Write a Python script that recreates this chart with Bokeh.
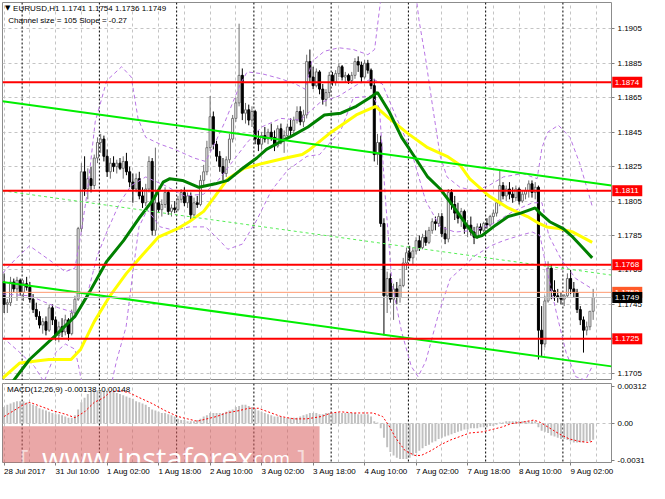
from bokeh.plotting import figure
from bokeh.layouts import column
from bokeh.models import (ColumnDataSource, Range1d, FixedTicker, Span, Label,
                          BoxAnnotation, PrintfTickFormatter)
from bokeh.core.properties import value
from bokeh.embed import file_html
from bokeh.resources import INLINE

FONT = "Liberation Sans"

# EURUSD H1, 28 Jul 2017 18:00 ... 9 Aug 2017 09:00 (x = bar number)
opens = [1.1758, 1.1745, 1.1746, 1.1758, 1.1754, 1.1759, 1.1752, 1.1757, 1.1755, 1.1748, 1.1742, 1.1738,
         1.1733, 1.1735, 1.1730, 1.1743, 1.1736, 1.1727, 1.1732, 1.1729, 1.1736, 1.1728, 1.1740, 1.1748,
         1.1789, 1.1822, 1.1812, 1.1818, 1.1814, 1.1830, 1.1839, 1.1841, 1.1831, 1.1822, 1.1827, 1.1825,
         1.1827, 1.1824, 1.1828, 1.1822, 1.1816, 1.1812, 1.1818, 1.1808, 1.1804, 1.1812, 1.1828, 1.1788,
         1.1804, 1.1800, 1.1803, 1.1810, 1.1799, 1.1801, 1.1800, 1.1806, 1.1810, 1.1804, 1.1808, 1.1797,
         1.1804, 1.1803, 1.1817, 1.1822, 1.1836, 1.1854, 1.1838, 1.1831, 1.1825, 1.1821, 1.1829, 1.1841,
         1.1853, 1.1862, 1.1878, 1.1856, 1.1858, 1.1852, 1.1857, 1.1841, 1.1838, 1.1843, 1.1841, 1.1845,
         1.1842, 1.1837, 1.1847, 1.1840, 1.1843, 1.1848, 1.1846, 1.1852, 1.1857, 1.1851, 1.1855, 1.1886,
         1.1877, 1.1872, 1.1880, 1.1870, 1.1864, 1.1868, 1.1878, 1.1874, 1.1879, 1.1883, 1.1877, 1.1878,
         1.1875, 1.1878, 1.1886, 1.1884, 1.1877, 1.1885, 1.1881, 1.1872, 1.1832, 1.1839, 1.1792, 1.1750,
         1.1760, 1.1748, 1.1754, 1.1749, 1.1756, 1.1769, 1.1775, 1.1772, 1.1776, 1.1782, 1.1778, 1.1784,
         1.1781, 1.1788, 1.1793, 1.1792, 1.1796, 1.1786, 1.1783, 1.1810, 1.1803, 1.1798, 1.1795, 1.1799,
         1.1789, 1.1791, 1.1787, 1.1784, 1.1790, 1.1788, 1.1792, 1.1791, 1.1796, 1.1798, 1.1804, 1.1814,
         1.1808, 1.1812, 1.1809, 1.1807, 1.1812, 1.1805, 1.1809, 1.1811, 1.1815, 1.1810, 1.1813, 1.1730,
         1.1722, 1.1747, 1.1766, 1.1753, 1.1750, 1.1749, 1.1748, 1.1750, 1.1760, 1.1754, 1.1752, 1.1742,
         1.1736, 1.1730, 1.1732, 1.1741]
highs = [1.1763, 1.1748, 1.1761, 1.1760, 1.1761, 1.1760, 1.1759, 1.1761, 1.1758, 1.1751, 1.1746, 1.1741,
         1.1737, 1.1738, 1.1745, 1.1745, 1.1738, 1.1735, 1.1737, 1.1739, 1.1737, 1.1742, 1.1750, 1.1790,
         1.1827, 1.1831, 1.1824, 1.1825, 1.1832, 1.1842, 1.1844, 1.1843, 1.1835, 1.1830, 1.1831, 1.1829,
         1.1830, 1.1831, 1.1833, 1.1825, 1.1821, 1.1821, 1.1822, 1.1813, 1.1815, 1.1831, 1.1830, 1.1836,
         1.1812, 1.1806, 1.1813, 1.1811, 1.1803, 1.1805, 1.1808, 1.1812, 1.1813, 1.1810, 1.1810, 1.1807,
         1.1808, 1.1820, 1.1826, 1.1840, 1.1866, 1.1857, 1.1840, 1.1834, 1.1830, 1.1831, 1.1844, 1.1855,
         1.1865, 1.1908, 1.1882, 1.1862, 1.1861, 1.1860, 1.1858, 1.1846, 1.1845, 1.1848, 1.1847, 1.1850,
         1.1846, 1.1849, 1.1850, 1.1846, 1.1850, 1.1853, 1.1854, 1.1860, 1.1860, 1.1858, 1.1890, 1.1893,
         1.1883, 1.1882, 1.1881, 1.1873, 1.1870, 1.1880, 1.1880, 1.1881, 1.1885, 1.1884, 1.1880, 1.1879,
         1.1880, 1.1888, 1.1889, 1.1886, 1.1887, 1.1887, 1.1882, 1.1876, 1.1844, 1.1843, 1.1795, 1.1764,
         1.1763, 1.1757, 1.1758, 1.1760, 1.1772, 1.1778, 1.1779, 1.1778, 1.1784, 1.1785, 1.1786, 1.1788,
         1.1790, 1.1795, 1.1796, 1.1798, 1.1798, 1.1790, 1.1812, 1.1812, 1.1808, 1.1804, 1.1801, 1.1800,
         1.1794, 1.1796, 1.1790, 1.1792, 1.1792, 1.1793, 1.1795, 1.1797, 1.1800, 1.1806, 1.1823, 1.1816,
         1.1814, 1.1816, 1.1813, 1.1814, 1.1813, 1.1811, 1.1813, 1.1817, 1.1817, 1.1816, 1.1814, 1.1744,
         1.1750, 1.1770, 1.1768, 1.1759, 1.1754, 1.1752, 1.1751, 1.1763, 1.1765, 1.1758, 1.1754, 1.1744,
         1.1738, 1.1735, 1.1738, 1.1754]
lows = [1.1740, 1.1740, 1.1744, 1.1752, 1.1747, 1.1750, 1.1747, 1.1753, 1.1746, 1.1740, 1.1736, 1.1731,
        1.1728, 1.1727, 1.1729, 1.1733, 1.1724, 1.1723, 1.1726, 1.1727, 1.1724, 1.1727, 1.1737, 1.1747,
        1.1787, 1.1808, 1.1806, 1.1810, 1.1812, 1.1827, 1.1833, 1.1828, 1.1819, 1.1818, 1.1822, 1.1821,
        1.1823, 1.1818, 1.1820, 1.1813, 1.1804, 1.1810, 1.1806, 1.1801, 1.1802, 1.1810, 1.1785, 1.1785,
        1.1798, 1.1796, 1.1801, 1.1797, 1.1796, 1.1798, 1.1799, 1.1804, 1.1802, 1.1801, 1.1794, 1.1796,
        1.1801, 1.1802, 1.1814, 1.1820, 1.1834, 1.1835, 1.1828, 1.1822, 1.1817, 1.1819, 1.1827, 1.1839,
        1.1851, 1.1860, 1.1852, 1.1850, 1.1849, 1.1848, 1.1838, 1.1834, 1.1835, 1.1839, 1.1838, 1.1840,
        1.1834, 1.1836, 1.1838, 1.1833, 1.1841, 1.1842, 1.1844, 1.1850, 1.1849, 1.1848, 1.1853, 1.1874,
        1.1870, 1.1871, 1.1867, 1.1861, 1.1860, 1.1865, 1.1872, 1.1872, 1.1877, 1.1875, 1.1874, 1.1873,
        1.1873, 1.1876, 1.1880, 1.1874, 1.1876, 1.1879, 1.1870, 1.1828, 1.1826, 1.1790, 1.1727, 1.1740,
        1.1746, 1.1736, 1.1745, 1.1746, 1.1755, 1.1765, 1.1770, 1.1768, 1.1774, 1.1776, 1.1777, 1.1779,
        1.1780, 1.1786, 1.1788, 1.1790, 1.1784, 1.1780, 1.1781, 1.1800, 1.1794, 1.1792, 1.1790, 1.1786,
        1.1784, 1.1785, 1.1780, 1.1783, 1.1786, 1.1787, 1.1789, 1.1790, 1.1792, 1.1796, 1.1802, 1.1806,
        1.1805, 1.1806, 1.1804, 1.1805, 1.1803, 1.1804, 1.1806, 1.1807, 1.1807, 1.1806, 1.1713, 1.1715,
        1.1720, 1.1746, 1.1748, 1.1747, 1.1746, 1.1745, 1.1744, 1.1749, 1.1751, 1.1749, 1.1740, 1.1733,
        1.1717, 1.1727, 1.1730, 1.1736]
closes = [1.1745, 1.1746, 1.1758, 1.1754, 1.1759, 1.1752, 1.1757, 1.1755, 1.1748, 1.1742, 1.1738, 1.1733,
          1.1735, 1.1730, 1.1743, 1.1736, 1.1727, 1.1732, 1.1729, 1.1736, 1.1728, 1.1740, 1.1748, 1.1789,
          1.1822, 1.1812, 1.1818, 1.1814, 1.1830, 1.1839, 1.1841, 1.1831, 1.1822, 1.1827, 1.1825, 1.1827,
          1.1824, 1.1828, 1.1822, 1.1816, 1.1812, 1.1818, 1.1808, 1.1804, 1.1812, 1.1828, 1.1788, 1.1804,
          1.1800, 1.1803, 1.1810, 1.1799, 1.1801, 1.1800, 1.1806, 1.1810, 1.1804, 1.1808, 1.1797, 1.1804,
          1.1803, 1.1817, 1.1822, 1.1836, 1.1854, 1.1838, 1.1831, 1.1825, 1.1821, 1.1829, 1.1841, 1.1853,
          1.1862, 1.1878, 1.1856, 1.1858, 1.1852, 1.1857, 1.1841, 1.1838, 1.1843, 1.1841, 1.1845, 1.1842,
          1.1837, 1.1847, 1.1840, 1.1843, 1.1848, 1.1846, 1.1852, 1.1857, 1.1851, 1.1855, 1.1886, 1.1877,
          1.1872, 1.1880, 1.1870, 1.1864, 1.1868, 1.1878, 1.1874, 1.1879, 1.1883, 1.1877, 1.1878, 1.1875,
          1.1878, 1.1886, 1.1884, 1.1877, 1.1885, 1.1881, 1.1872, 1.1832, 1.1839, 1.1792, 1.1750, 1.1760,
          1.1748, 1.1754, 1.1749, 1.1756, 1.1769, 1.1775, 1.1772, 1.1776, 1.1782, 1.1778, 1.1784, 1.1781,
          1.1788, 1.1793, 1.1792, 1.1796, 1.1786, 1.1783, 1.1810, 1.1803, 1.1798, 1.1795, 1.1799, 1.1789,
          1.1791, 1.1787, 1.1784, 1.1790, 1.1788, 1.1792, 1.1791, 1.1796, 1.1798, 1.1804, 1.1814, 1.1808,
          1.1812, 1.1809, 1.1807, 1.1812, 1.1805, 1.1809, 1.1811, 1.1815, 1.1810, 1.1813, 1.1730, 1.1722,
          1.1747, 1.1766, 1.1753, 1.1750, 1.1749, 1.1748, 1.1750, 1.1760, 1.1754, 1.1752, 1.1742, 1.1736,
          1.1730, 1.1732, 1.1741, 1.1749]

# moving averages, read as (bar, price)
ma_green_x = [1.0, 7.9, 16.0, 22.0, 26.8, 31.9, 37.1, 41.9, 46.4, 49.4, 51.5, 55.4, 60.5, 65.6, 69.5,
              73.4, 78.5, 81.5, 85.4, 89.6, 94.4, 99.5, 104.6, 109.4, 113.6, 116.0, 119.6, 123.5,
              127.4, 131.6, 135.5, 139.5, 143.7, 146.7, 148.5, 152.7, 156.6, 160.5, 165.0, 166.5,
              169.5, 173.7, 176.7, 179.7, 182.7]
ma_green = [1.1696, 1.1713, 1.1727, 1.1738, 1.1753, 1.1770, 1.1782, 1.1795, 1.1806, 1.1816, 1.1818,
            1.1817, 1.1813, 1.1815, 1.1817, 1.1823, 1.1830, 1.1835, 1.1839, 1.1843, 1.1848, 1.1855,
            1.1856, 1.1860, 1.1865, 1.1868, 1.1857, 1.1842, 1.1831, 1.1819, 1.1812, 1.1802, 1.1791,
            1.1784, 1.1785, 1.1791, 1.1796, 1.1798, 1.1801, 1.1798, 1.1793, 1.1789, 1.1784, 1.1778,
            1.1772]
ma_yellow_x = [-0.5, 4.9, 13.9, 20.8, 23.8, 28.0, 32.9, 38.0, 43.1, 47.9, 53.9, 57.5, 62.0, 65.6, 69.5,
               74.6, 80.6, 87.5, 92.6, 95.0, 101.6, 109.4, 115.4, 119.6, 125.6, 131.6, 137.6, 141.6,
               144.6, 150.6, 156.6, 162.6, 166.2, 168.6, 172.5, 176.7, 182.7]
ma_yellow = [1.1702, 1.1711, 1.1713, 1.1713, 1.1719, 1.1735, 1.1750, 1.1763, 1.1774, 1.1784, 1.1789,
             1.1793, 1.1799, 1.1808, 1.1818, 1.1824, 1.1827, 1.1830, 1.1832, 1.1835, 1.1845, 1.1855,
             1.1860, 1.1853, 1.1844, 1.1836, 1.1831, 1.1826, 1.1818, 1.1808, 1.1801, 1.1796, 1.1792,
             1.1790, 1.1789, 1.1787, 1.1781]

# Bollinger bands (upper / middle / lower), read as (bar, price)
bb_up_x = [-0.5, 3.4, 7.9, 13.9, 19.0, 22.0, 23.8, 25.9, 28.3, 31.9, 36.5, 39.5, 41.6, 44.0, 48.5,
           53.0, 59.0, 62.6, 65.6, 68.6, 71.0, 73.4, 75.5, 80.0, 86.0, 90.5, 93.5, 95.6, 99.5, 104.0,
           108.5, 113.0, 115.1, 116.6, 117.8, 127.4, 128.9, 131.0, 133.2, 135.5, 137.6, 141.6, 146.1,
           150.6, 155.1, 161.1, 165.6, 167.1, 168.9, 172.2, 175.8, 178.8, 181.8, 182.7]
bb_up = [1.1763, 1.1771, 1.1779, 1.1771, 1.1764, 1.1766, 1.1785, 1.1811, 1.1851, 1.1875, 1.1883,
         1.1877, 1.1853, 1.1842, 1.1838, 1.1835, 1.1830, 1.1828, 1.1839, 1.1851, 1.1862, 1.1873,
         1.1880, 1.1879, 1.1876, 1.1873, 1.1870, 1.1886, 1.1892, 1.1894, 1.1893, 1.1890, 1.1893,
         1.1916, 1.1933, 1.1933, 1.1910, 1.1887, 1.1859, 1.1831, 1.1819, 1.1813, 1.1811, 1.1814,
         1.1819, 1.1821, 1.1818, 1.1836, 1.1845, 1.1849, 1.1842, 1.1827, 1.1808, 1.1802]
bb_mid_x = [-0.5, 7.9, 16.9, 22.3, 25.9, 28.9, 31.9, 35.9, 39.5, 44.0, 50.0, 56.0, 62.0, 66.5, 71.0,
            75.5, 80.0, 86.0, 92.0, 98.0, 104.0, 110.0, 114.5, 117.5, 122.0, 126.5, 131.0, 135.5,
            140.1, 146.1, 152.1, 158.1, 164.1, 167.1, 169.2, 173.1, 177.6, 182.7]
bb_mid = [1.1751, 1.1750, 1.1743, 1.1740, 1.1751, 1.1773, 1.1787, 1.1804, 1.1814, 1.1819, 1.1814,
          1.1808, 1.1809, 1.1817, 1.1828, 1.1839, 1.1848, 1.1853, 1.1852, 1.1862, 1.1866, 1.1873,
          1.1876, 1.1873, 1.1853, 1.1834, 1.1805, 1.1790, 1.1787, 1.1788, 1.1792, 1.1799, 1.1804,
          1.1804, 1.1785, 1.1771, 1.1760, 1.1754]
bb_low_x = [-0.5, 4.9, 9.4, 12.4, 16.0, 19.0, 22.0, 23.5, 24.4, 32.9, 34.9, 37.9, 40.1, 41.9, 44.5,
            48.5, 53.0, 57.5, 62.6, 66.5, 69.5, 74.0, 78.5, 83.0, 88.1, 94.1, 98.0, 104.6, 108.5,
            114.5, 116.6, 118.4, 120.5, 123.5, 126.5, 128.6, 131.0, 134.9, 138.6, 142.2, 146.1,
            151.2, 155.1, 160.2, 164.1, 166.5, 168.6, 171.6, 174.6, 177.6, 180.6, 182.7]
bb_low = [1.1726, 1.1717, 1.1709, 1.1700, 1.1717, 1.1722, 1.1719, 1.1706, 1.1695, 1.1695, 1.1712,
          1.1732, 1.1765, 1.1790, 1.1800, 1.1790, 1.1788, 1.1790, 1.1790, 1.1783, 1.1777, 1.1780,
          1.1794, 1.1811, 1.1823, 1.1831, 1.1832, 1.1846, 1.1865, 1.1866, 1.1859, 1.1808, 1.1757,
          1.1729, 1.1709, 1.1703, 1.1712, 1.1739, 1.1760, 1.1766, 1.1773, 1.1779, 1.1782, 1.1785,
          1.1787, 1.1785, 1.1765, 1.1740, 1.1717, 1.1703, 1.1701, 1.1709]

# regression channel, ends at the chart edges
chan_x = [-0.5, 188.7]
chan_upper = [1.1863, 1.1814]
chan_mid = [1.1811, 1.1762]
chan_lower = [1.1758, 1.1709]

levels = [1.1874, 1.1811, 1.1768, 1.1725]
ask_price = 1.1752
bid_price = 1.1749
price_ticks = [1.1705, 1.1725, 1.1745, 1.1765, 1.1785, 1.1805, 1.1825, 1.1845, 1.1865, 1.1885, 1.1905]

# MACD(12,26,9): main line per bar, signal read as (bar, value)
macd_main = [0.0014, 0.0016, 0.0017, 0.0018, 0.0019, 0.0019, 0.0019, 0.0018, 0.0017, 0.0016, 0.0015, 0.0013,
             0.0012, 0.0011, 0.0010, 0.0009, 0.0008, 0.0008, 0.0007, 0.0006, 0.0005, 0.0005, 0.0007, 0.0012,
             0.0018, 0.0022, 0.0025, 0.0027, 0.0028, 0.0028, 0.0028, 0.0028, 0.0028, 0.0027, 0.0027, 0.0026,
             0.0025, 0.0024, 0.0023, 0.0022, 0.0021, 0.0019, 0.0018, 0.0017, 0.0016, 0.0014, 0.0012, 0.0011,
             0.0010, 0.0009, 0.0009, 0.0008, 0.0007, 0.0006, 0.0004, 0.0003, 0.0003, 0.0002, 0.0002, 0.0002,
             0.0003, 0.0004, 0.0006, 0.0007, 0.0009, 0.0009, 0.0009, 0.0009, 0.0009, 0.0010, 0.0011, 0.0012,
             0.0014, 0.0015, 0.0016, 0.0016, 0.0015, 0.0014, 0.0013, 0.0011, 0.0010, 0.0009, 0.0008, 0.0007,
             0.0006, 0.0006, 0.0006, 0.0005, 0.0005, 0.0005, 0.0005, 0.0005, 0.0006, 0.0007, 0.0008, 0.0009,
             0.0009, 0.0009, 0.0008, 0.0008, 0.0009, 0.0009, 0.0009, 0.0009, 0.0009, 0.0009, 0.0009, 0.0009,
             0.0009, 0.0009, 0.0008, 0.0008, 0.0008, 0.0008, 0.0006, 0.0002, 0.0001, -0.0004, -0.0012, -0.0020,
             -0.0024, -0.0027, -0.0029, -0.0030, -0.0030, -0.0030, -0.0029, -0.0027, -0.0025, -0.0023, -0.0021, -0.0019,
             -0.0018, -0.0016, -0.0015, -0.0013, -0.0012, -0.0011, -0.0010, -0.0009, -0.0008, -0.0007, -0.0006, -0.0005,
             -0.0005, -0.0004, -0.0004, -0.0004, -0.0003, -0.0003, -0.0003, -0.0002, -0.0002, -0.0001, 0.0001, 0.0001,
             0.0002, 0.0002, 0.0002, 0.0002, 0.0002, 0.0002, 0.0002, 0.0002, 0.0002, 0.0002, -0.0003, -0.0006,
             -0.0007, -0.0008, -0.0010, -0.0011, -0.0012, -0.0013, -0.0013, -0.0014, -0.0015, -0.0016, -0.0016, -0.0016,
             -0.0016, -0.0015, -0.0015, -0.00138]
macd_signal_x = [0, 3, 6, 8, 11, 15, 19, 22, 25, 28, 31, 33, 36, 39, 42, 46, 50, 54, 57, 60,
                 63, 66, 69, 73, 76, 79, 82, 86, 90, 94, 98.6, 101.6, 104.6, 108.6, 114.6, 117.6,
                 119.6, 121.6, 124.6, 127.6, 129.6, 132.6, 135.6, 138.6, 141.6, 144.6, 148.6, 151.6,
                 154.6, 157.6, 160.6, 164.6, 166.6, 169.6, 172.6, 175.6, 178.6, 181.6, 183]
macd_signal = [0.0006, 0.0011, 0.0016, 0.0018, 0.0015, 0.0011, 0.0008, 0.0005, 0.0010, 0.0018,
               0.0022, 0.0027, 0.0028, 0.0026, 0.0022, 0.0017, 0.0011, 0.0006, 0.0004, 0.0002,
               0.0004, 0.0006, 0.0009, 0.0011, 0.0013, 0.0013, 0.0010, 0.0006, 0.0004, 0.0004,
               0.0006, 0.0009, 0.0010, 0.0009, 0.0009, 0.0006, -0.0002, -0.0012, -0.0023, -0.0027,
               -0.0027, -0.0023, -0.0018, -0.0014, -0.0011, -0.0008, -0.0007, -0.0005, -0.0003, 0.0000,
               0.0001, 0.0003, 0.0001, -0.0004, -0.0009, -0.0013, -0.0015, -0.0016, -0.00148]

day_starts = [6, 30, 54, 78, 102, 126, 150, 174]
grid_bars = list(range(0, 189, 8))
label_bars = [0, 16, 32, 48, 64, 80, 96, 112, 128, 144, 160, 176]
time_labels = ["28 Jul 2017", "31 Jul 10:00", "1 Aug 02:00", "1 Aug 18:00", "2 Aug 10:00",
               "3 Aug 02:00", "3 Aug 18:00", "4 Aug 10:00", "7 Aug 02:00", "7 Aug 18:00",
               "8 Aug 10:00", "9 Aug 02:00"]

# price tags on the right-hand scale; the bid tag is drawn last, over the ask tag
tag_prices = levels + [ask_price]
tag_colors = ["#ff0000", "#ff0000", "#ff0000", "#ff0000", "#ff5a28"]


def style(p):
    p.background_fill_color = "white"
    p.border_fill_color = "white"
    p.outline_line_color = "#8c8c8c"
    p.min_border_left = 2
    p.min_border_right = 36
    p.xgrid.ticker = FixedTicker(ticks=grid_bars)
    p.grid.grid_line_color = "#c4c4c4"
    p.grid.grid_line_dash = "3 3"
    for b in day_starts:
        p.add_layout(Span(location=b - 0.4, dimension="height", line_color="black",
                          line_dash="2 2", line_width=1, level="underlay"))
    ax = p.yaxis[0]
    ax.axis_line_color = None
    ax.major_tick_out = 3
    ax.major_tick_in = 0
    ax.minor_tick_line_color = None
    ax.major_tick_line_color = "#808080"
    ax.major_label_standoff = 3
    ax.major_label_text_font = FONT
    ax.major_label_text_font_size = "8px"
    ax.major_label_text_color = "black"


def add_tags(p, prices, colors):
    # overlay level is not clipped to the frame, so the tags can sit on the scale
    p.rect(x=193.6, y=prices, width=30, height=11, width_units="screen", height_units="screen",
           fill_color=colors, line_color=None, level="overlay")
    p.text(x=189.7, y=prices, text=["%.4f" % v for v in prices], text_font=value(FONT),
           text_font_size="8px", text_color="white", text_align="left", text_baseline="middle",
           level="overlay")


x_range = Range1d(-0.5, 188.7)

# ---- price panel
p = figure(width=649, height=380, x_range=x_range, y_range=Range1d(1.17008, 1.19203),
           y_axis_location="right", x_axis_location=None, tools="",
           toolbar_location=None, output_backend="svg")
style(p)
p.min_border_top = 2
p.min_border_bottom = 0
p.yaxis.ticker = FixedTicker(ticks=price_ticks)
p.yaxis.formatter = PrintfTickFormatter(format="%.4f")
p.ygrid.ticker = FixedTicker(ticks=price_ticks)

bull = dict(x=[], top=[], bottom=[], high=[], low=[])
bear = dict(x=[], top=[], bottom=[], high=[], low=[])
for i, (o, h, l, c) in enumerate(zip(opens, highs, lows, closes)):
    d = bull if c >= o else bear
    d["x"].append(i)
    d["top"].append(max(o, c))
    d["bottom"].append(min(o, c))
    d["high"].append(h)
    d["low"].append(l)
bull_src = ColumnDataSource(bull)
bear_src = ColumnDataSource(bear)

p.segment("x", "low", "x", "high", source=bull_src, line_color="#6e6e6e", line_width=1)
p.vbar("x", 0.62, "top", "bottom", source=bull_src, fill_color="white", line_color="#6e6e6e",
       line_width=1)
p.segment("x", "low", "x", "high", source=bear_src, line_color="black", line_width=1)
p.vbar("x", 0.62, "top", "bottom", source=bear_src, fill_color="black", line_color="black",
       line_width=1)

bb_color = "#b875e4"
p.line(bb_up_x, bb_up, line_color=bb_color, line_dash="4 3", line_width=1)
p.line(bb_mid_x, bb_mid, line_color=bb_color, line_dash="4 3", line_width=1)
p.line(bb_low_x, bb_low, line_color=bb_color, line_dash="4 3", line_width=1)

p.line(ma_yellow_x, ma_yellow, line_color="#ffff00", line_width=3)
p.line(ma_green_x, ma_green, line_color="#008000", line_width=3)

p.line(chan_x, chan_upper, line_color="#00ee00", line_width=2)
p.line(chan_x, chan_lower, line_color="#00ee00", line_width=2)
p.line(chan_x, chan_mid, line_color="#55ee55", line_width=1, line_dash="3 3")

p.add_layout(Span(location=bid_price, dimension="width", line_color="#c0c0c0", line_width=1))
p.add_layout(Span(location=ask_price, dimension="width", line_color="#ff9a70", line_width=1))
for lv in levels:
    p.add_layout(Span(location=lv, dimension="width", line_color="#ff0000", line_width=2))

add_tags(p, tag_prices, tag_colors)
add_tags(p, [bid_price], ["#000000"])

p.add_layout(Label(x=0.3, y=1.19192, text="\u25bc", text_font="DejaVu Sans", text_font_size="7px",
                   text_color="black", text_baseline="top"))
p.add_layout(Label(x=2.8, y=1.19195, text="EURUSD,H1  1.1741 1.1754 1.1736 1.1749",
                   text_font=FONT, text_font_size="8px", text_color="black", text_baseline="top"))
p.add_layout(Label(x=1.3, y=1.19127, text="Channel size = 105 Slope = -0.27",
                   text_font=FONT, text_font_size="8px", text_color="black", text_baseline="top"))

# ---- MACD panel
macd_ticks = [-0.0031, 0.0, 0.00312]
p2 = figure(width=649, height=103, x_range=x_range, y_range=Range1d(-0.0033, 0.0034),
            y_axis_location="right", tools="", toolbar_location=None, output_backend="svg")
style(p2)
p2.min_border_top = 3
p2.min_border_bottom = 19
p2.yaxis.ticker = FixedTicker(ticks=macd_ticks)
p2.yaxis.major_label_overrides = {-0.0031: "-0.0031", 0.0: "0.00", 0.00312: "0.00312"}
p2.ygrid.ticker = FixedTicker(ticks=[0.0])

p2.vbar(x=list(range(len(macd_main))), width=0.6, top=macd_main, bottom=0,
        fill_color="#c0c0c0", line_color=None)
p2.line(macd_signal_x, macd_signal, line_color="#ff0000", line_width=1, line_dash="2 2")

xa = p2.xaxis[0]
xa.ticker = FixedTicker(ticks=label_bars)
xa.major_label_overrides = {b: t for b, t in zip(label_bars, time_labels)}
# a tiny negative angle makes bokeh left-align the labels at their tick
xa.major_label_orientation = -0.0001
xa.axis_line_color = None
xa.major_tick_out = 3
xa.major_tick_in = 0
xa.major_tick_line_color = "#808080"
xa.minor_tick_line_color = None
xa.major_label_standoff = 6
xa.major_label_text_font = FONT
xa.major_label_text_font_size = "8px"
xa.major_label_text_color = "black"

p2.add_layout(Label(x=0.9, y=0.00325, text="MACD(12,26,9) -0.00138 -0.00148", text_font=FONT,
                    text_font_size="8px", text_color="black", text_baseline="top"))

# watermark
p2.add_layout(BoxAnnotation(left=-0.5, right=98, bottom=-0.004, top=-0.00023,
                            fill_color="#d95f5f", fill_alpha=0.55, line_color=None))
p2.add_layout(Label(x=4.9, y=-0.0029, text="[", text_font="Open Sans", text_font_size="26px",
                    text_color="white", text_alpha=0.6, text_baseline="alphabetic"))
p2.add_layout(Label(x=11.8, y=-0.0029, text="www.instaforex", text_font="Open Sans",
                    text_font_size="29px", text_color="white", text_baseline="alphabetic"))
p2.add_layout(Label(x=76.1, y=-0.0029, text=".com", text_font="Open Sans",
                    text_font_size="18px", text_color="white", text_baseline="alphabetic"))
p2.add_layout(Label(x=91.1, y=-0.0029, text="]", text_font="Open Sans", text_font_size="26px",
                    text_color="white", text_alpha=0.6, text_baseline="alphabetic"))

layout = column(p, p2)
open("out.html", "w").write(file_html(layout, INLINE))
